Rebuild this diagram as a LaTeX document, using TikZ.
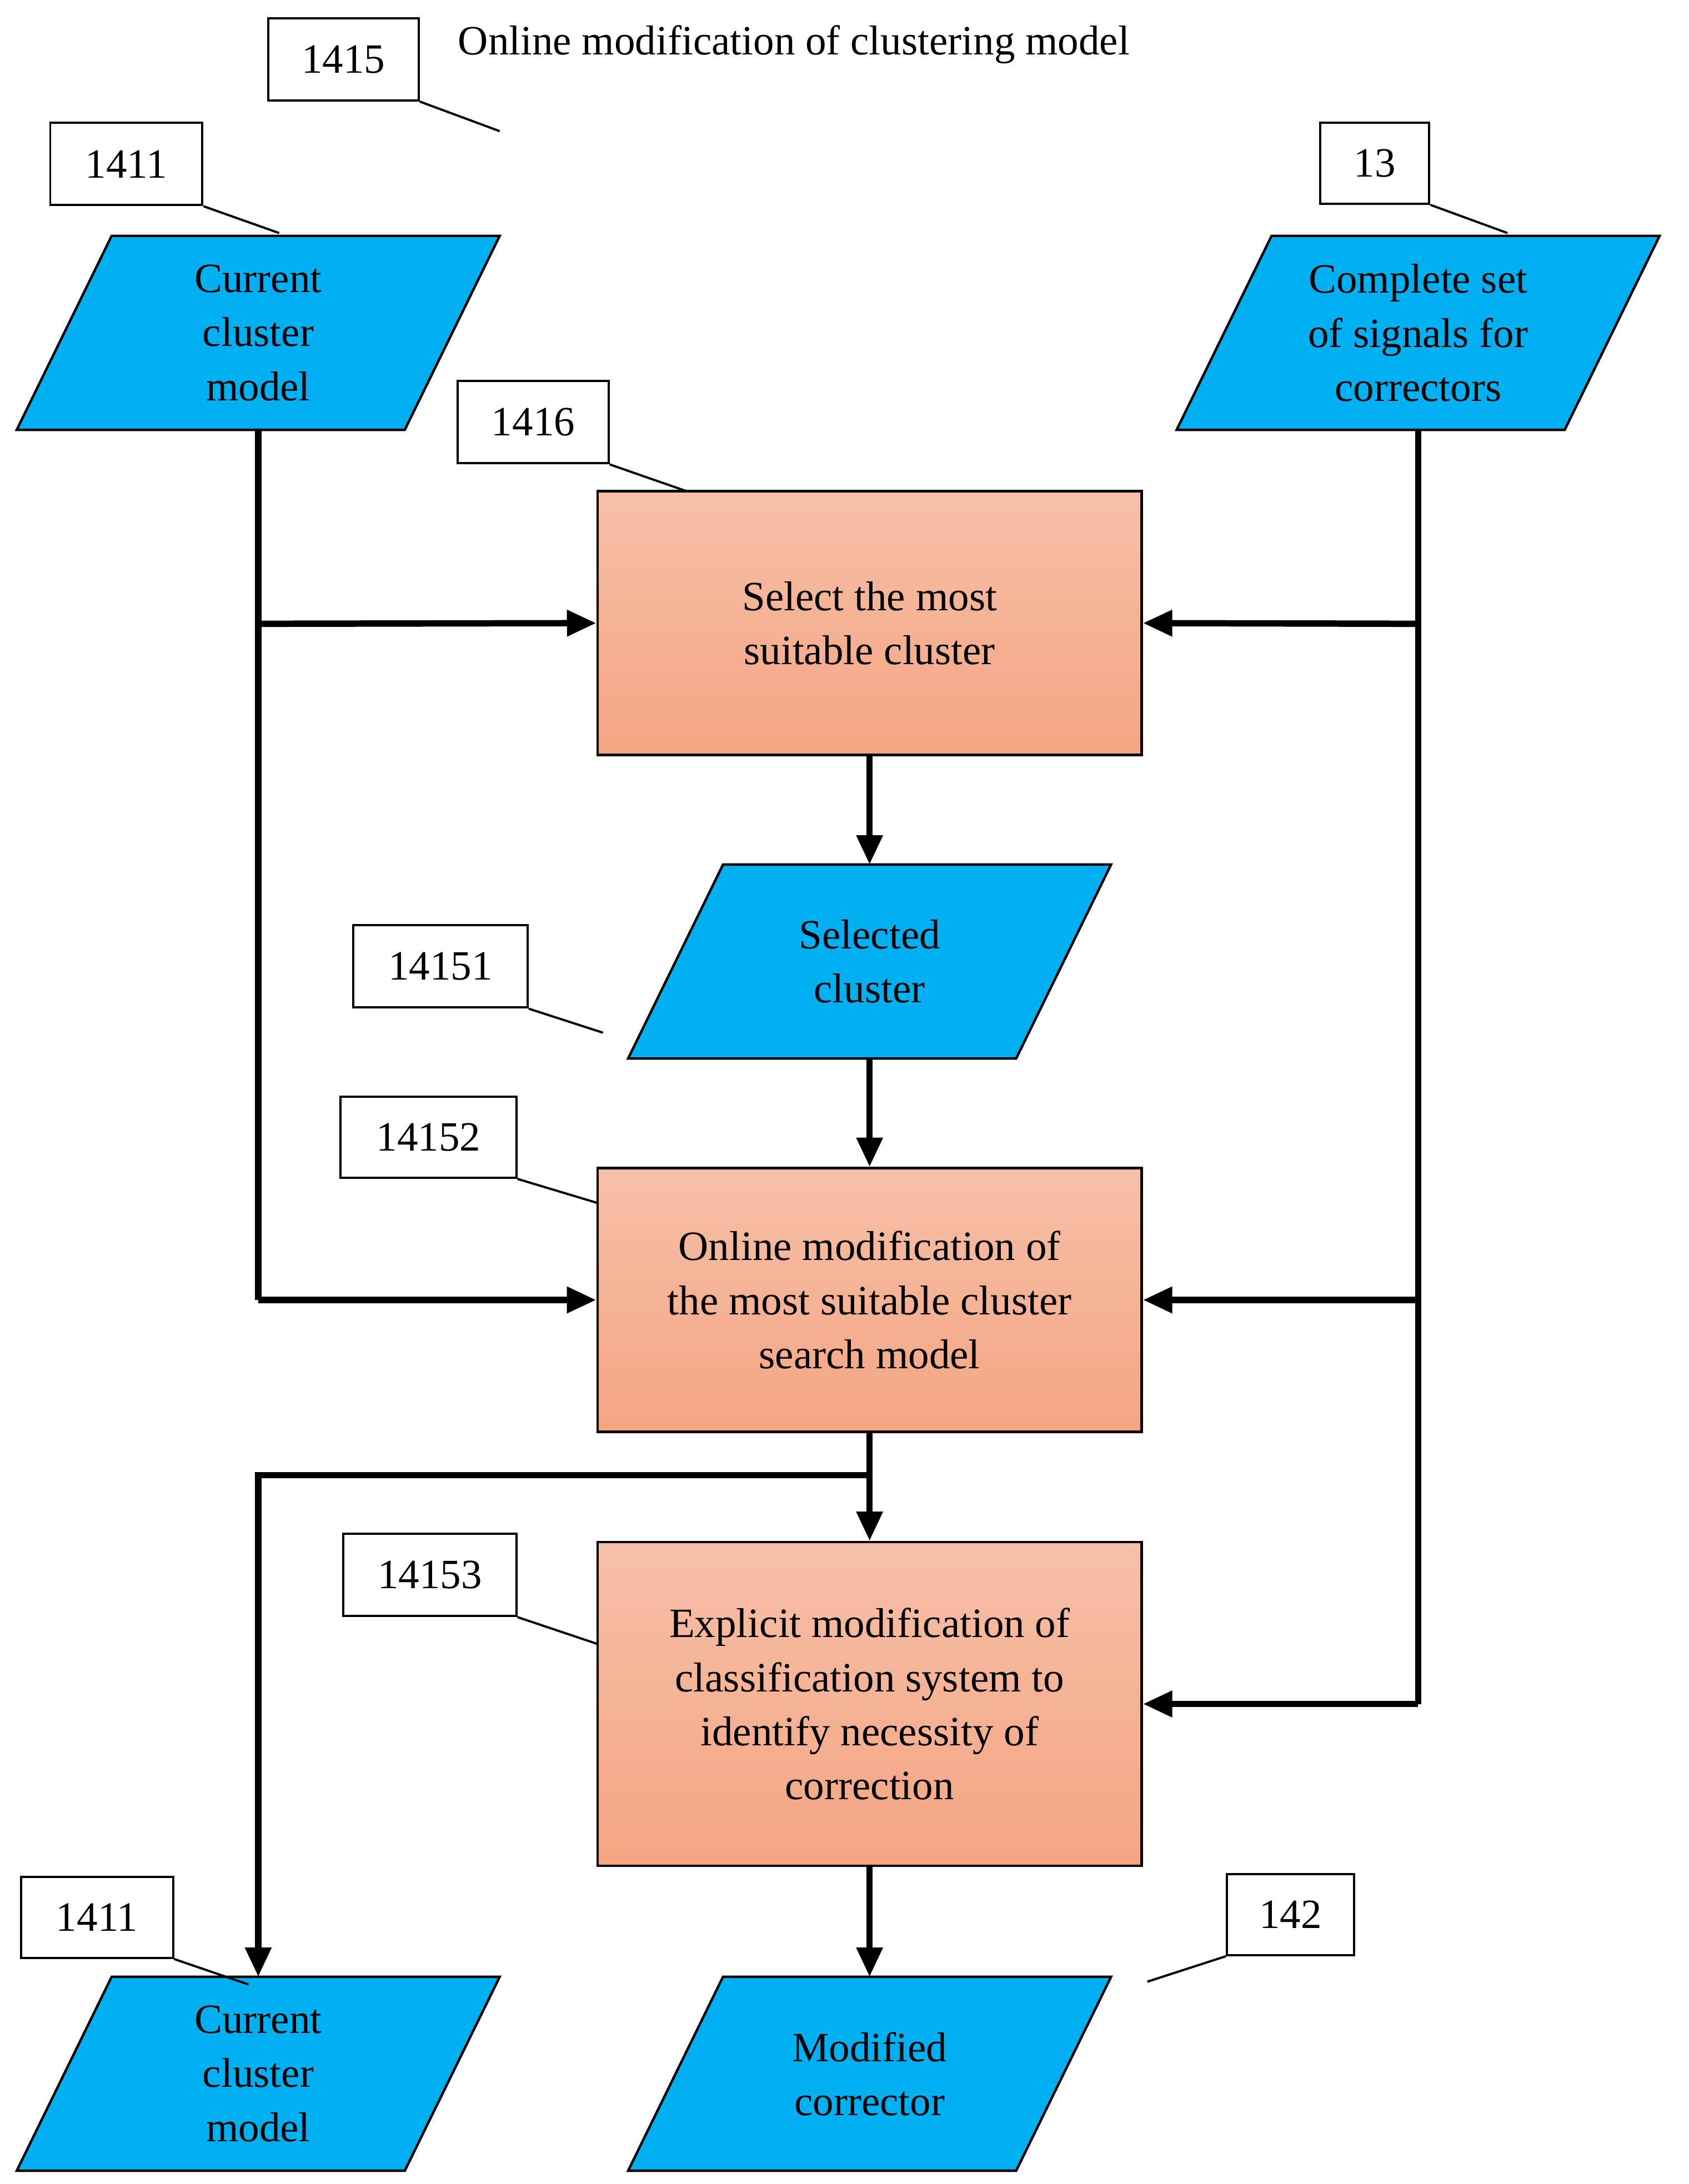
\documentclass[tikz,border=0pt]{standalone}
\usepackage{fontspec}
\setmainfont{Liberation Serif}
\usetikzlibrary{arrows.meta}
\definecolor{cyanfill}{HTML}{00B0F0}
\definecolor{boxtop}{HTML}{F6C0A8}
\definecolor{boxbot}{HTML}{F4A582}

\tikzset{
  flow/.style={line width=2.6pt,-{Triangle[length=0.42cm,width=0.36cm]}},
  bar/.style={line width=2.6pt},
  lead/.style={line width=0.9pt},
  tag/.style={draw,line width=0.9pt,fill=white,inner sep=0pt,font=\fontsize{17}{20}\selectfont},
  proc/.style={draw,line width=1pt,top color=boxtop,bottom color=boxbot,minimum width=7.8cm,
    align=center,font=\fontsize{17}{22}\selectfont},
  txt/.style={align=center,font=\fontsize{17}{22}\selectfont}
}
% parallelogram with centre node: name, x, y, text
\newcommand{\datashape}[4]{%
  \draw[line width=1pt,fill=cyanfill] (#2-105,#3-69.5) -- (#2+173,#3-69.5) -- (#2+105,#3+69.5) -- (#2-173,#3+69.5) -- cycle;
  \node[txt] (#1) at (#2,#3) {#4};
  \coordinate (#1-top) at (#2,#3-69.5);
  \coordinate (#1-bot) at (#2,#3+69.5);}

\begin{document}
\begin{tikzpicture}[x=0.02cm,y=-0.02cm]
	\useasboundingbox (0,0) rectangle (1210,1565);
	
	% title
	\node[txt,anchor=west] (title) at (322,32) {Online modification of clustering model};
	\node[tag,minimum width=2.16cm,minimum height=1.18cm] (t1415) at (246,42.5) {1415};
	\coordinate (e1415) at (358,94);
	\draw[lead] (t1415.south east) -- (e1415);
	
	% inputs
	\datashape{cur}{185}{238.5}{Current\\cluster\\model}
	\datashape{sig}{1016}{238.5}{Complete set\\of signals for\\correctors}
	\node[tag,minimum width=2.18cm,minimum height=1.18cm] (t1411a) at (90.5,117.5) {1411};
	\draw[lead] (t1411a.south east) -- (200,167);
	\node[tag,minimum width=1.56cm,minimum height=1.16cm] (t13) at (985,117) {13};
	\draw[lead] (t13.south east) -- (1080,167);
	
	% processes
	\node[proc,minimum height=3.78cm] (sel) at (623,446.5) {Select the most\\suitable cluster};
	\node[tag,minimum width=2.16cm,minimum height=1.18cm] (t1416) at (382,302.5) {1416};
	\draw[lead] (t1416.south east) -- (492,352);
	
	\datashape{scl}{623}{689}{Selected\\cluster}
	\node[tag,minimum width=2.5cm,minimum height=1.18cm] (t14151) at (315.5,692.5) {14151};
	\draw[lead] (t14151.south east) -- (432,740);
	
	\node[proc,minimum height=3.78cm] (onl) at (623,931.5) {Online modification of\\the most suitable cluster\\search model};
	\node[tag,minimum width=2.52cm,minimum height=1.16cm] (t14152) at (307,815) {14152};
	\draw[lead] (t14152.south east) -- (428,862);
	
	\node[proc,minimum height=4.64cm] (exp) at (623,1221) {Explicit modification of\\classification system to\\identify necessity of\\correction};
	\node[tag,minimum width=2.48cm,minimum height=1.18cm] (t14153) at (308,1128.5) {14153};
	\draw[lead] (t14153.south east) -- (428,1178);
	
	% outputs
	\datashape{out}{185}{1486}{Current\\cluster\\model}
	\datashape{mod}{623}{1486}{Modified\\corrector}
	\node[tag,minimum width=2.18cm,minimum height=1.16cm] (t1411b) at (69.5,1374) {1411};
	\draw[lead] (t1411b.south east) -- (178,1422);
	\node[tag,minimum width=1.82cm,minimum height=1.16cm] (t142) at (924.5,1372) {142};
	\draw[lead] (t142.south west) -- (822,1420);
	
	% connectors
	\coordinate (lj1) at (185,447);
	\coordinate (lj2) at (185,931.5);
	\coordinate (rj1) at (1016,447);
	\coordinate (rj2) at (1016,931.5);
	\coordinate (rj3) at (1016,1221);
	\coordinate (mj) at (623,1057);
	\coordinate (mjl) at (185,1057);
	\draw[bar] (cur-bot) -- (lj2);
	\draw[flow] (lj1) -- (sel.west);
	\draw[flow] (lj2) -- (onl.west);
	\draw[bar] (sig-bot) -- (rj3);
	\draw[flow] (rj1) -- (sel.east);
	\draw[flow] (rj2) -- (onl.east);
	\draw[flow] (rj3) -- (exp.east);
	\draw[flow] (sel.south) -- (scl-top);
	\draw[flow] (scl-bot) -- (onl.north);
	\draw[flow] (onl.south) -- (exp.north);
	\draw[flow] (mj) -- (mjl) -- (out-top);
	\draw[flow] (exp.south) -- (mod-top);
\end{tikzpicture}
\end{document}
